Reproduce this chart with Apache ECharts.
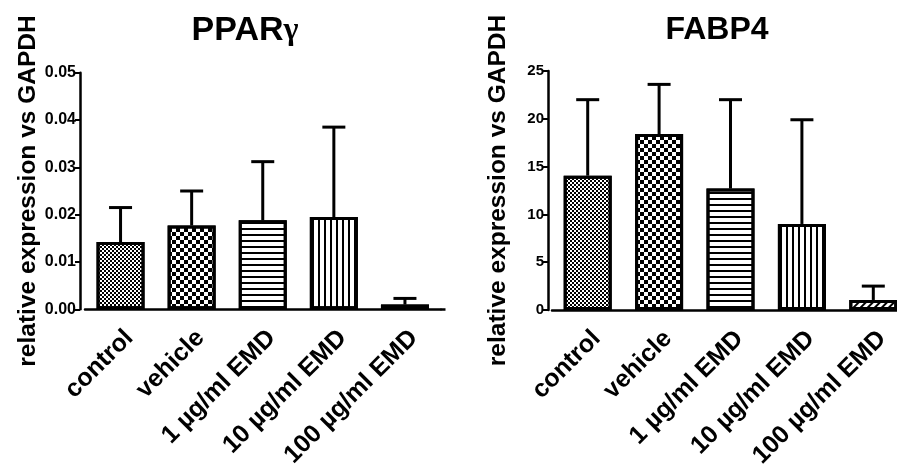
<!DOCTYPE html>
<html>
<head>
<meta charset="utf-8">
<script src="https://cdn.jsdelivr.net/npm/echarts@6/dist/echarts.min.js"></script>
<style>
html,body{margin:0;padding:0;background:#fff;}
#c{width:897px;height:468px;}
</style>
</head>
<body>
<div id="c"></div>
<script>
const categories = ['control', 'vehicle', '1 µg/ml EMD', '10 µg/ml EMD', '100 µg/ml EMD'];
const pparMean = [0.0142, 0.0177, 0.0188, 0.0195, 0.0010];
const pparSD   = [0.0073, 0.0073, 0.0124, 0.0190, 0.0013];
const fabpMean = [14.05, 18.4, 12.7, 9.0, 1.05];
const fabpSD   = [7.95, 5.2, 9.3, 10.9, 1.45];
const pparTicks = [0, 0.01, 0.02, 0.03, 0.04, 0.05];
const fabpTicks = [0, 5, 10, 15, 20, 25];
const yName = 'relative expression vs GAPDH';

const FONT = 'Liberation Sans, Arial, sans-serif';
const decals = [
  {symbol:'rect', symbolSize:1, dashArrayX:[[2,2],[0,2,2,0]], dashArrayY:[2,0], color:'#000'},
  {symbol:'rect', symbolSize:1, dashArrayX:[[4,4],[0,4,4,0]], dashArrayY:[4,0], color:'#000'},
  {symbol:'rect', symbolSize:1, dashArrayX:[1,0], dashArrayY:[1.5,3.2], color:'#000'},
  {symbol:'rect', symbolSize:1, dashArrayX:[1.5,3.2], dashArrayY:[1,0], color:'#000'},
  {symbol:'rect', symbolSize:1, dashArrayX:[1,0], dashArrayY:[1.5,2.5], rotation:-Math.PI/4, color:'#000'}
];

function barData(means){
  return means.map((v,i)=>({value:v, itemStyle:{decal:decals[i]}}));
}
function errData(means, sds){
  return means.map((v,i)=>[i, v, sds[i]]);
}
function renderErr(params, api){
  const x = api.value(0), y = api.value(1), sd = api.value(2);
  const b = api.coord([x, y]);
  const t = api.coord([x, y + sd]);
  const hw = 11.5;
  const st = {stroke:'#000', lineWidth:3};
  return {type:'group', children:[
    {type:'line', shape:{x1:b[0], y1:b[1], x2:t[0], y2:t[1]}, style:st},
    {type:'line', shape:{x1:t[0]-hw, y1:t[1], x2:t[0]+hw, y2:t[1]}, style:st}
  ]};
}
function xAxis(gi){
  return {
    type:'category', gridIndex:gi, data:categories,
    axisLine:{lineStyle:{color:'#000', width:2.5}},
    axisTick:{alignWithLabel:true, length:7, lineStyle:{color:'#000', width:2}},
    axisLabel:{rotate:45, interval:0, color:'#000', fontFamily:FONT, fontWeight:'bold', fontSize:25,
      verticalAlign:'top', margin:16}
  };
}
function yAxis(gi, ticks, dec, off, fs){
  return {
    type:'value', gridIndex:gi, min:ticks[0], max:ticks[ticks.length-1],
    interval:ticks[1]-ticks[0], offset:off,
    name:yName, nameLocation:'middle', nameGap:37,
    nameTextStyle:{color:'#000', fontFamily:FONT, fontWeight:'bold', fontSize:24.5},
    axisLine:{show:true, lineStyle:{color:'#000', width:2.5}},
    axisTick:{show:true, length:5, lineStyle:{color:'#000', width:2}},
    axisLabel:{color:'#000', fontFamily:FONT, fontWeight:'bold', fontSize:fs, margin:4,
      formatter:v=>v.toFixed(dec)},
    splitLine:{show:false}
  };
}
function cornerAxis(gi, ticks, off){
  return {
    type:'value', gridIndex:gi, min:ticks[0], max:ticks[ticks.length-1], offset:off,
    axisLine:{show:false}, axisLabel:{show:false}, splitLine:{show:false},
    axisTick:{show:true, inside:true, length:off, customValues:[ticks[0]], lineStyle:{color:'#000', width:2.5}}
  };
}

const chart = echarts.init(document.getElementById('c'), null, {renderer:'canvas'});
chart.setOption({
  backgroundColor:'#fff',
  animation:false,
  title:[
    {text:'{a|PPAR}{g|γ}', left:240, top:9, textAlign:'center',
      textStyle:{rich:{a:{fontFamily:FONT, fontWeight:'bold', fontSize:34, color:'#000'},
                       g:{fontFamily:'Liberation Serif, serif', fontSize:32, color:'#000'}}}},
    {text:'FABP4', left:712, top:9, textAlign:'center',
      textStyle:{fontFamily:FONT, fontWeight:'bold', fontSize:32, color:'#000'}}
  ],
  grid:[
    {left:85, width:355.5, top:72.7, bottom:158.7, containLabel:false, outerBoundsMode:'none'},
    {left:552, width:357, top:71, bottom:158, containLabel:false, outerBoundsMode:'none'}
  ],
  xAxis:[xAxis(0), xAxis(1)],
  yAxis:[
    yAxis(0, pparTicks, 2, 5, 16),
    yAxis(1, fabpTicks, 0, 4, 15),
    cornerAxis(0, pparTicks, 5),
    cornerAxis(1, fabpTicks, 4)
  ],
  series:[
    {type:'bar', xAxisIndex:0, yAxisIndex:0, data:barData(pparMean), barWidth:48,
      itemStyle:{color:'#fff', borderColor:'#000', borderWidth:3}},
    {type:'custom', xAxisIndex:0, yAxisIndex:0, data:errData(pparMean, pparSD), renderItem:renderErr, z:5},
    {type:'bar', xAxisIndex:1, yAxisIndex:1, data:barData(fabpMean), barWidth:48,
      itemStyle:{color:'#fff', borderColor:'#000', borderWidth:3}},
    {type:'custom', xAxisIndex:1, yAxisIndex:1, data:errData(fabpMean, fabpSD), renderItem:renderErr, z:5}
  ]
});
</script>
</body>
</html>
